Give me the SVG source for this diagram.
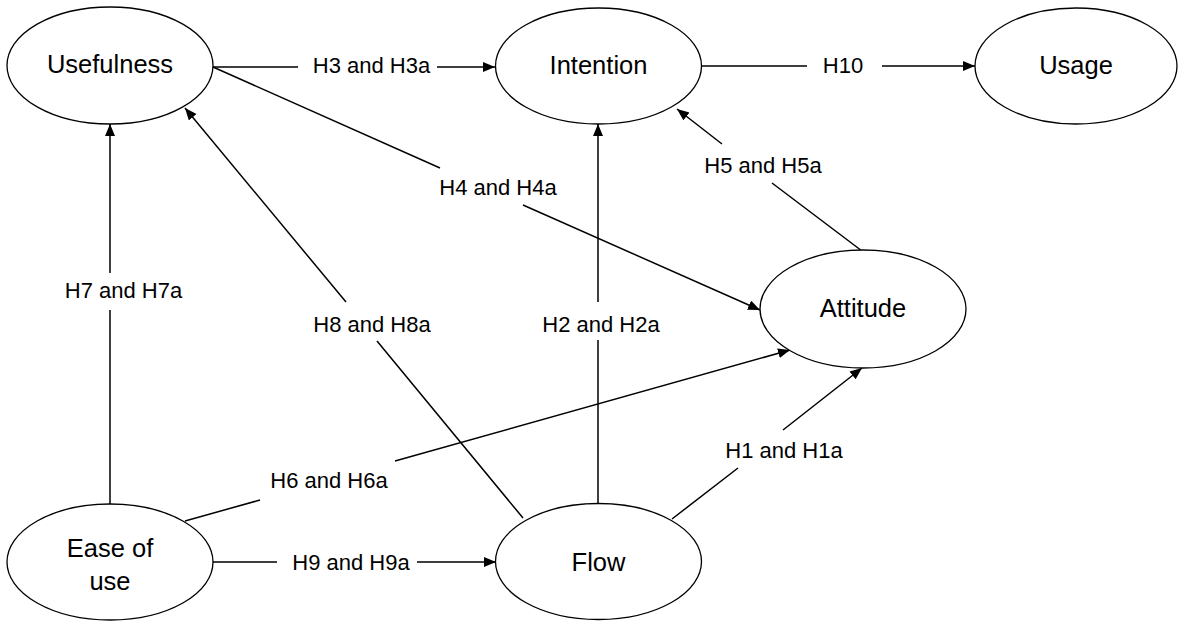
<svg xmlns="http://www.w3.org/2000/svg" width="1184" height="624" viewBox="0 0 1184 624">
<style>
.node ellipse{fill:#fff;stroke:#000;stroke-width:1.3}
.node text{font-family:"Liberation Sans",Arial,sans-serif;font-size:25.5px;text-anchor:middle;fill:#000}
.edge path{fill:none;stroke:#000;stroke-width:1.5;marker-end:url(#ah)}
.lbl text{font-family:"Liberation Sans",Arial,sans-serif;font-size:22px;text-anchor:middle;fill:#000}
</style>
<defs>
<marker id="ah" markerUnits="userSpaceOnUse" markerWidth="13" markerHeight="11" refX="12" refY="5" orient="auto">
<path d="M0,0 L12,5 L0,10 z" fill="#000"/>
</marker>
</defs>
<rect width="1184" height="624" fill="#fff"/>
<g id="connectors">
<g class="edge">
<path d="M213,67 L298,67 M437,67 L495,67"/>
<path d="M701,66 L807,66 M882,66 L975,66"/>
<path d="M213,67 L440,168 M523,205 L760,310"/>
<path d="M862,251 L772,183 M722,144 L677,109"/>
<path d="M598,504 L598,340 M598,302 L598,124"/>
<path d="M523,518 L377,341 M346,302 L185,108"/>
<path d="M110,504 L110,310 M110,273 L110,124"/>
<path d="M185,521 L260,500 M395,461 L790,350"/>
<path d="M672,519 L738,468 M783,430 L862,368"/>
<path d="M213,562 L277,562 M417,562 L496,562"/>
</g>
<g class="lbl">
<text x="371.5" y="73">H3 and H3a</text>
<text x="843" y="73">H10</text>
<text x="498" y="195">H4 and H4a</text>
<text x="763" y="173">H5 and H5a</text>
<text x="601" y="332">H2 and H2a</text>
<text x="372" y="332">H8 and H8a</text>
<text x="123.5" y="298">H7 and H7a</text>
<text x="329" y="488">H6 and H6a</text>
<text x="784" y="458">H1 and H1a</text>
<text x="351" y="570">H9 and H9a</text>
</g>
</g>
<g id="usefulness" class="node"><ellipse cx="110" cy="65.5" rx="103" ry="58.5"/><text x="110" y="73">Usefulness</text></g>
<g id="intention" class="node"><ellipse cx="598.5" cy="66" rx="103" ry="58"/><text x="598.5" y="74">Intention</text></g>
<g id="usage" class="node"><ellipse cx="1076" cy="66" rx="101" ry="58"/><text x="1076" y="74">Usage</text></g>
<g id="attitude" class="node"><ellipse cx="863" cy="309" rx="103" ry="59"/><text x="863" y="317">Attitude</text></g>
<g id="ease" class="node"><ellipse cx="110" cy="562" rx="103" ry="58"/><text x="110" y="557">Ease of</text><text x="110" y="590">use</text></g>
<g id="flow" class="node"><ellipse cx="598.5" cy="561.5" rx="103" ry="58"/><text x="598.5" y="571">Flow</text></g>
</svg>
